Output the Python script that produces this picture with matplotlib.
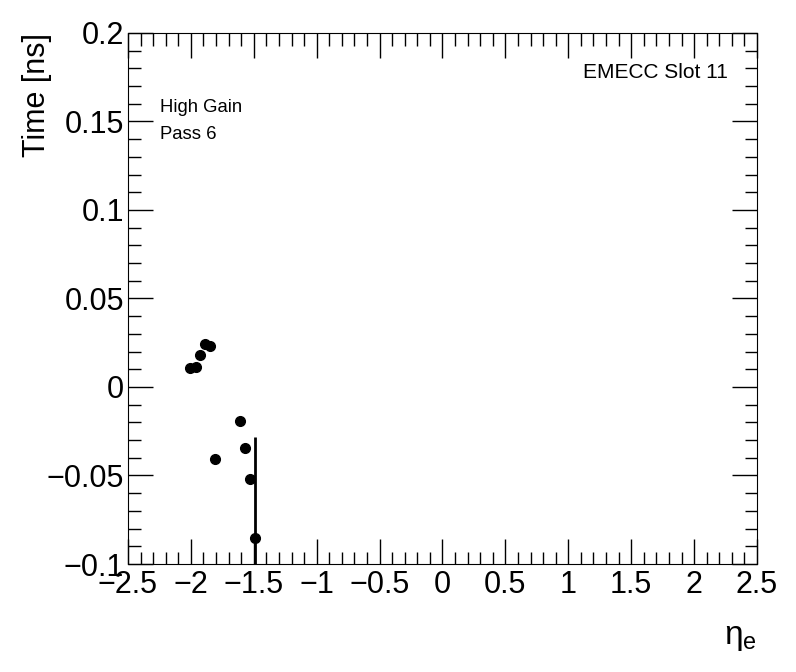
import matplotlib.pyplot as plt
from matplotlib.ticker import MultipleLocator
import numpy as np

plt.rcParams['font.family'] = ['Liberation Sans', 'DejaVu Sans']

# data
eta = [-2.007, -1.962, -1.925, -1.886, -1.846, -1.806, -1.607, -1.568, -1.528, -1.488]
time = [0.0106, 0.0111, 0.0179, 0.0241, 0.0230, -0.0409, -0.0192, -0.0346, -0.0521, -0.0855]
err = [0, 0, 0, 0, 0, 0, 0, 0, 0, 0.057]

fig = plt.figure(figsize=(7.96, 6.72), dpi=100)
ax = fig.add_axes([0.1608, 0.1607, 0.7902, 0.7903])

ax.errorbar(eta, time, yerr=err, fmt='o', color='black', ms=7,
            elinewidth=2, capsize=0)

ax.set_xlim(-2.5, 2.5)
ax.set_ylim(-0.1, 0.2)

ax.xaxis.set_major_locator(MultipleLocator(0.5))
ax.xaxis.set_minor_locator(MultipleLocator(0.1))
ax.yaxis.set_major_locator(MultipleLocator(0.05))
ax.yaxis.set_minor_locator(MultipleLocator(0.01))
ax.tick_params(which='both', direction='in', top=True, right=True, width=1)
ax.tick_params(which='major', length=18, labelsize=22)
ax.tick_params(axis='x', which='major', pad=4)
ax.tick_params(axis='y', which='major', pad=3)
ax.tick_params(which='minor', length=9)

ax.set_xticklabels([('%g' % v).replace('-', '\u2212') for v in ax.get_xticks()])
ax.set_yticklabels([('%g' % v).replace('-', '\u2212') for v in ax.get_yticks()])

# axis titles (ROOT style, at the end of the axis)
ax.text(-0.1447, 1.0, 'Time [ns]', transform=ax.transAxes, fontsize=22,
        rotation=90, ha='center', va='top')
ax.set_xlabel(r'$\mathregular{\eta_e}$', fontsize=24, loc='right', labelpad=16)

ax.text(0.954, 0.925, 'EMECC Slot 11', transform=ax.transAxes, fontsize=15,
        ha='right', va='center')
ax.text(0.051, 0.859, 'High Gain', transform=ax.transAxes, fontsize=13.3,
        ha='left', va='center')
ax.text(0.051, 0.808, 'Pass 6', transform=ax.transAxes, fontsize=13.3,
        ha='left', va='center')

fig.savefig('out.png', dpi=100)
